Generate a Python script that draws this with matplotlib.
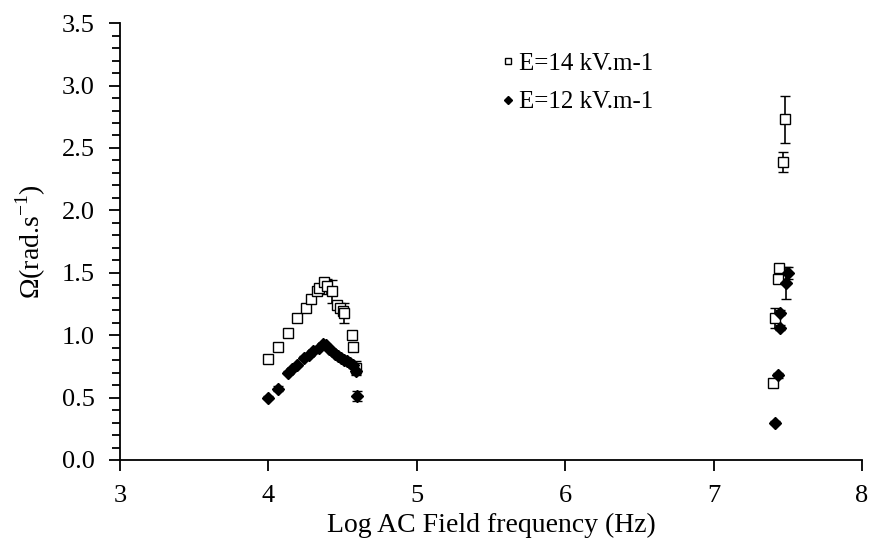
import matplotlib.pyplot as plt
from matplotlib.ticker import MultipleLocator

plt.rcParams["font.family"] = ["Liberation Serif", "DejaVu Serif"]
plt.rcParams["mathtext.fontset"] = "custom"
plt.rcParams["mathtext.rm"] = "Liberation Serif"

# E = 14 kV/m (open squares)
x14 = [4.00, 4.065, 4.13, 4.19, 4.25, 4.29, 4.33, 4.34, 4.375, 4.395, 4.43, 4.46,
       4.48, 4.50, 4.51, 4.56, 4.57, 4.59,
       7.40, 7.41, 7.43, 7.44, 7.47, 7.48]
y14 = [0.81, 0.905, 1.02, 1.14, 1.22, 1.29, 1.35, 1.38, 1.43, 1.39, 1.35, 1.24,
       1.22, 1.19, 1.18, 1.00, 0.905, 0.74,
       0.62, 1.14, 1.45, 1.54, 2.39, 2.73]
e14 = [0.01, 0.01, 0.01, 0.02, 0.02, 0.02, 0.02, 0.02, 0.02, 0.06, 0.09, 0.03,
       0.03, 0.03, 0.08, 0.02, 0.02, 0.05,
       0.02, 0.08, 0.03, 0.03, 0.08, 0.19]

# E = 12 kV/m (filled diamonds)
x12 = [4.00, 4.065, 4.13, 4.16, 4.19, 4.24, 4.27, 4.30, 4.34, 4.37, 4.39, 4.41,
       4.43, 4.45, 4.47, 4.49, 4.51, 4.53, 4.55, 4.57, 4.59, 4.60,
       7.41, 7.43, 7.45, 7.45, 7.49, 7.50]
y12 = [0.50, 0.57, 0.70, 0.73, 0.76, 0.82, 0.84, 0.87, 0.90, 0.93, 0.92, 0.89,
       0.87, 0.85, 0.83, 0.82, 0.80, 0.79, 0.78, 0.76, 0.71, 0.51,
       0.30, 0.68, 1.06, 1.18, 1.42, 1.50]
e12 = [0.01, 0.02, 0.01, 0.01, 0.01, 0.01, 0.01, 0.01, 0.01, 0.01, 0.01, 0.01,
       0.01, 0.01, 0.01, 0.01, 0.01, 0.01, 0.01, 0.02, 0.03, 0.04,
       0.01, 0.02, 0.02, 0.02, 0.13, 0.05]

fig = plt.figure(figsize=(8.71, 5.38), dpi=100)
ax = fig.add_axes([0.1378, 0.145, 0.852, 0.812])

ax.errorbar(x14, y14, yerr=e14, fmt="none", ecolor="black", elinewidth=1.2,
            capsize=3.5)
ax.errorbar(x12, y12, yerr=e12, fmt="none", ecolor="black", elinewidth=1.2,
            capsize=3.5)
ax.plot(x14, y14, "s", ms=6.5, mfc="white", mec="black", mew=1.0,
        label="E=14 kV.m-1")
ax.plot(x12, y12, "D", ms=6, mfc="black", mec="black",
        label="E=12 kV.m-1")

ax.set_xlim(3, 8)
ax.set_ylim(0, 3.5)
ax.xaxis.set_major_locator(MultipleLocator(1))
ax.yaxis.set_major_locator(MultipleLocator(0.5))
ax.yaxis.set_minor_locator(MultipleLocator(0.1))
ax.yaxis.set_major_formatter(plt.FormatStrFormatter("%.1f"))
ax.tick_params(which="major", direction="out", length=8, width=1.3,
               labelsize=19, pad=10)
ax.tick_params(which="minor", direction="out", length=6, width=1.3)

for s in ["top", "right"]:
    ax.spines[s].set_visible(False)
for s in ["left", "bottom"]:
    ax.spines[s].set_linewidth(1.3)

ax.set_xlabel("Log AC Field frequency (Hz)", fontsize=20, labelpad=4)
ax.set_ylabel(r"$\Omega$(rad.s$^{\mathregular{-1}}$)", fontsize=20, labelpad=10)

leg = ax.legend(loc="upper left", bbox_to_anchor=(0.482, 0.985), frameon=False,
                fontsize=18, handletextpad=0.15, labelspacing=0.65,
                handlelength=0.6, markerscale=0.7)

fig.savefig("out.png", dpi=100)
